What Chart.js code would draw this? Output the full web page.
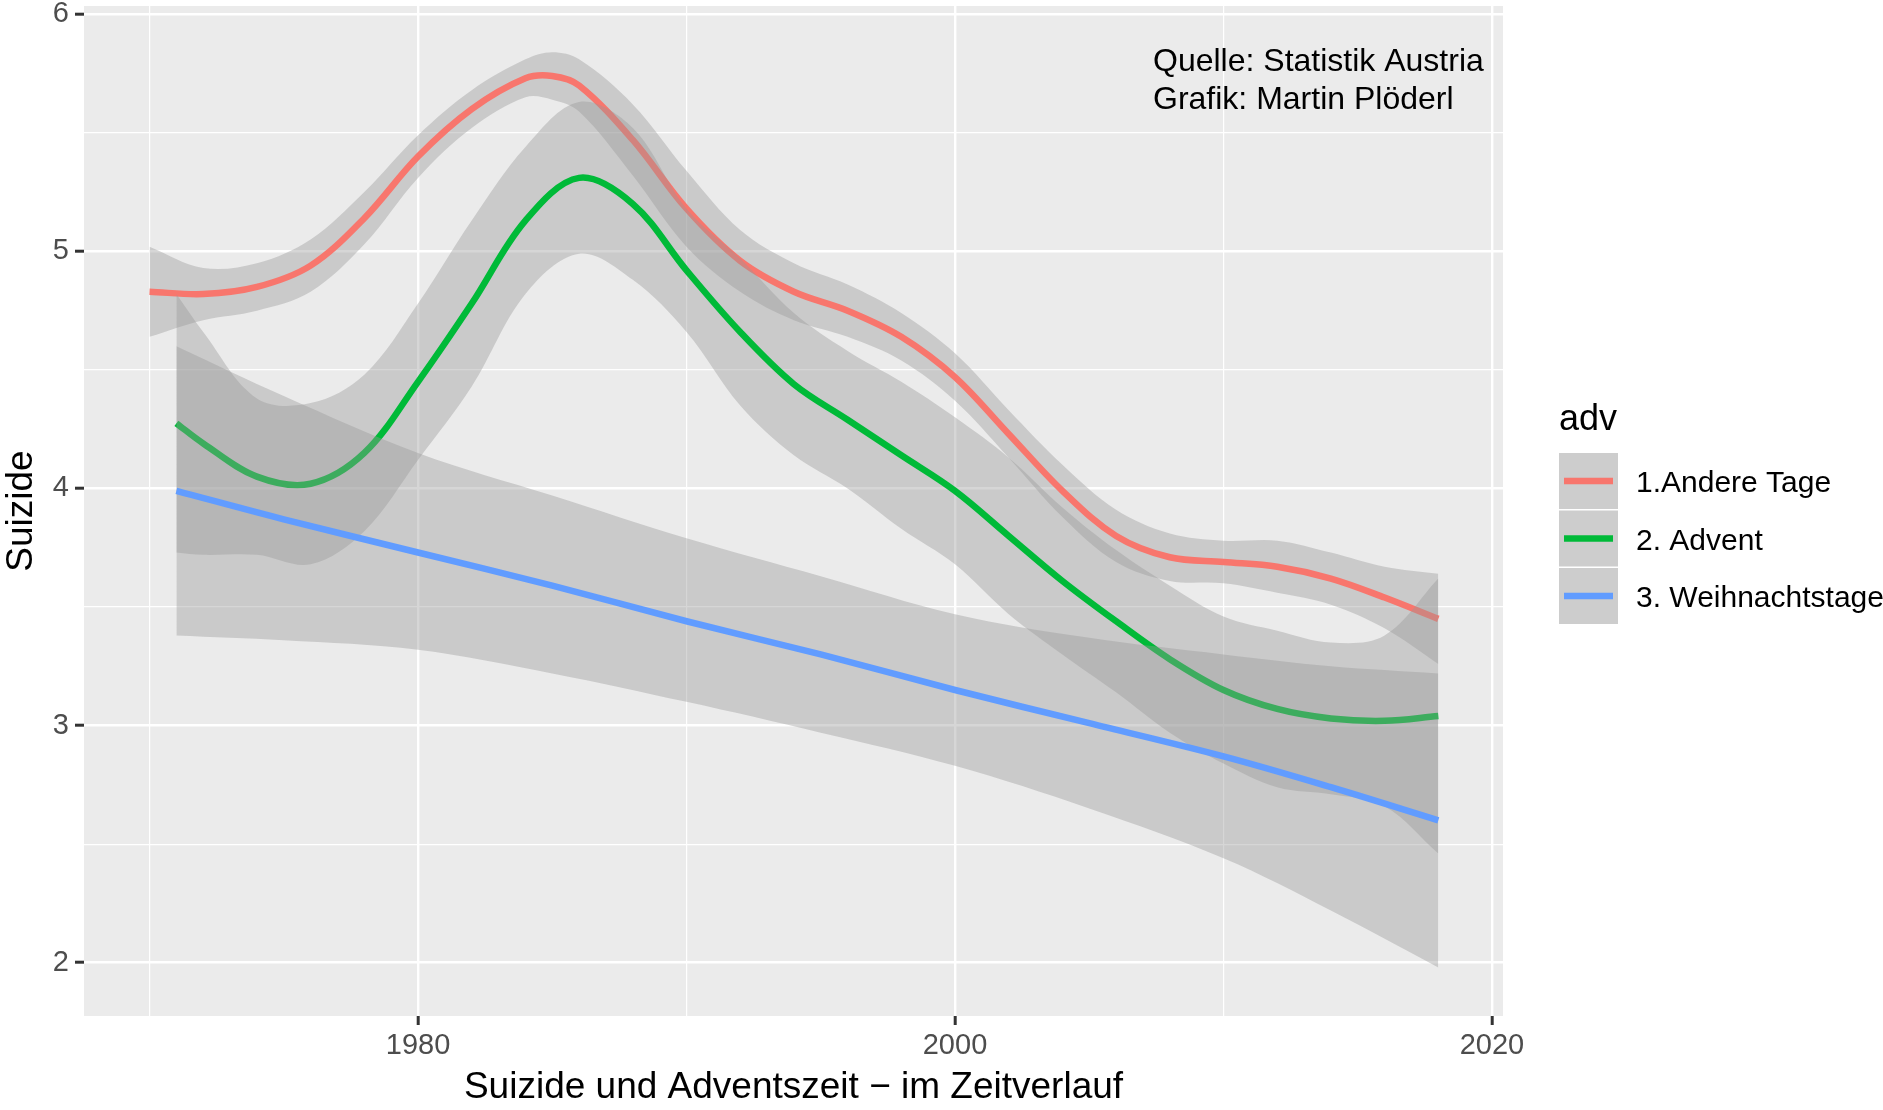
<!DOCTYPE html>
<html>
<head>
<meta charset="utf-8">
<script src="https://cdn.jsdelivr.net/npm/chart.js@4.4.1/dist/chart.umd.min.js"></script>
<style>
  html, body { margin: 0; padding: 0; background: #ffffff; }
  #wrap { width: 1883px; height: 1110px; }
</style>
</head>
<body>
<div id="wrap"><canvas id="c" width="1883" height="1110"></canvas></div>
<script>
// ---------- DATA ----------
const seriesNames = ['1.Andere Tage', '2. Advent', '3. Weihnachtstage'];
const legendTitle = 'adv';
const noteLines = ['Quelle: Statistik Austria', 'Grafik: Martin Plöderl'];

const xMajorTicks = [1980, 2000, 2020];
const xMinorTicks = [1970, 1990, 2010];
const yMajorTicks = [2, 3, 4, 5, 6];
const yMinorTicks = [2.5, 3.5, 4.5, 5.5];

// 1.Andere Tage
const andereYears = [1970, 1972, 1974, 1976, 1978, 1980, 1982, 1984, 1985, 1986, 1988, 1990, 1992, 1994, 1996, 1998, 2000, 2002, 2004, 2006, 2008, 2010, 2012, 2014, 2016, 2018];
const andereFit   = [4.83, 4.82, 4.85, 4.94, 5.14, 5.40, 5.60, 5.73, 5.74, 5.70, 5.47, 5.18, 4.96, 4.83, 4.75, 4.64, 4.47, 4.23, 3.99, 3.80, 3.71, 3.69, 3.67, 3.62, 3.54, 3.45];
const andereUpper = [5.02, 4.93, 4.95, 5.05, 5.25, 5.49, 5.68, 5.81, 5.84, 5.81, 5.62, 5.34, 5.09, 4.95, 4.86, 4.74, 4.57, 4.33, 4.10, 3.91, 3.81, 3.78, 3.78, 3.73, 3.67, 3.64];
const andereLower = [4.64, 4.71, 4.75, 4.83, 5.03, 5.31, 5.52, 5.65, 5.64, 5.59, 5.32, 5.02, 4.83, 4.71, 4.64, 4.54, 4.37, 4.13, 3.88, 3.69, 3.61, 3.60, 3.56, 3.51, 3.41, 3.26];

// 2. Advent
const adventYears = [1971, 1972, 1974, 1976, 1978, 1980, 1982, 1984, 1986, 1988, 1990, 1992, 1994, 1996, 1998, 2000, 2002, 2004, 2006, 2008, 2010, 2012, 2014, 2016, 2018];
const adventFit   = [4.275, 4.19, 4.05, 4.02, 4.15, 4.45, 4.78, 5.13, 5.31, 5.20, 4.92, 4.66, 4.44, 4.29, 4.14, 3.99, 3.80, 3.61, 3.44, 3.28, 3.15, 3.07, 3.03, 3.02, 3.04];
const adventUpper = [4.82, 4.66, 4.38, 4.36, 4.48, 4.78, 5.13, 5.44, 5.63, 5.52, 5.18, 4.97, 4.74, 4.58, 4.45, 4.30, 4.13, 3.92, 3.74, 3.59, 3.46, 3.40, 3.35, 3.38, 3.62];
const adventLower = [3.73, 3.72, 3.72, 3.68, 3.82, 4.12, 4.43, 4.82, 4.99, 4.88, 4.66, 4.35, 4.14, 4.00, 3.83, 3.68, 3.47, 3.30, 3.14, 2.97, 2.84, 2.74, 2.71, 2.66, 2.46];

// 3. Weihnachtstage
const weihYears = [1971, 1975, 1980, 1985, 1990, 1995, 2000, 2005, 2010, 2014, 2018];
const weihFit   = [3.99, 3.87, 3.73, 3.59, 3.44, 3.30, 3.15, 3.01, 2.87, 2.74, 2.60];
const weihUpper = [4.60, 4.39, 4.15, 3.97, 3.79, 3.63, 3.47, 3.37, 3.30, 3.25, 3.22];
const weihLower = [3.38, 3.36, 3.32, 3.22, 3.10, 2.97, 2.83, 2.65, 2.44, 2.22, 1.98];

const xRange = [1967.56, 2020.41];
const yRange = [1.775, 6.035];

// ---------- STYLE ----------
const FONT = '"Liberation Sans", Arial, Helvetica, sans-serif';
const seriesColors = ['#F8766D', '#00BA38', '#619CFF'];
const bandFill = 'rgba(153,153,153,0.4)';
const CURVE_TENSION = 0.35;

function pts(xs, ys) { return xs.map((x, i) => ({ x: x, y: ys[i] })); }

function bandEdge(xs, ys, order, fillTarget) {
  return {
    data: pts(xs, ys),
    borderColor: 'rgba(0,0,0,0)',
    borderWidth: 1,
    pointRadius: 0,
    tension: CURVE_TENSION,
    backgroundColor: bandFill,
    fill: fillTarget === undefined ? false : fillTarget,
    order: order
  };
}
function fitLine(label, xs, ys, color, order) {
  return {
    label: label,
    data: pts(xs, ys),
    borderColor: color,
    borderWidth: 6.5,
    pointRadius: 0,
    tension: CURVE_TENSION,
    fill: false,
    order: order,
    borderCapStyle: 'butt'
  };
}

const datasets = [
  bandEdge(andereYears, andereUpper, 6),            // 0
  bandEdge(andereYears, andereLower, 6, 0),         // 1
  fitLine(seriesNames[0], andereYears, andereFit, seriesColors[0], 5), // 2
  bandEdge(adventYears, adventUpper, 4),            // 3
  bandEdge(adventYears, adventLower, 4, 3),         // 4
  fitLine(seriesNames[1], adventYears, adventFit, seriesColors[1], 3), // 5
  bandEdge(weihYears, weihUpper, 2),                // 6
  bandEdge(weihYears, weihLower, 2, 6),             // 7
  fitLine(seriesNames[2], weihYears, weihFit, seriesColors[2], 1)      // 8
];

const ggExtras = {
  id: 'ggExtras',
  beforeDraw(chart) {
    const { ctx, chartArea: a } = chart;
    ctx.save();
    ctx.fillStyle = '#EBEBEB';
    ctx.fillRect(a.left, a.top, a.right - a.left, a.bottom - a.top);
    ctx.restore();
  },
  afterDraw(chart) {
    const ctx = chart.ctx;
    const a = chart.chartArea;
    ctx.save();
    // annotation text
    ctx.fillStyle = '#000000';
    ctx.textAlign = 'left';
    ctx.textBaseline = 'middle';
    ctx.font = '32px ' + FONT;
    noteLines.forEach((t, i) => ctx.fillText(t, a.right - 350, 62 + i * 38.5));
    // legend
    const lx = a.right + 56;
    ctx.font = '36px ' + FONT;
    ctx.fillText(legendTitle, lx, 420);
    const key = 57.5, top0 = 453;
    seriesNames.forEach((name, i) => {
      const y = top0 + i * key;
      ctx.fillStyle = '#CDCDCD';
      ctx.fillRect(lx, y, 59, key - 1.5);
      ctx.strokeStyle = seriesColors[i];
      ctx.lineWidth = 6.5;
      ctx.beginPath();
      ctx.moveTo(lx + 5, y + (key - 1.5) / 2);
      ctx.lineTo(lx + 54, y + (key - 1.5) / 2);
      ctx.stroke();
      ctx.fillStyle = '#000000';
      ctx.font = '30px ' + FONT;
      ctx.fillText(name, lx + 77, y + (key - 1.5) / 2 + 3);
    });
    ctx.restore();
  }
};

function zeroPad(s) { s.paddingTop = 0; s.paddingBottom = 0; s.paddingLeft = 0; s.paddingRight = 0; }

new Chart(document.getElementById('c'), {
  type: 'line',
  data: { datasets: datasets },
  plugins: [ggExtras],
  options: {
    responsive: false,
    animation: false,
    devicePixelRatio: 1,
    events: [],
    layout: { padding: { top: 6, right: 380, left: 0, bottom: 0 } },
    plugins: { legend: { display: false }, tooltip: { enabled: false }, title: { display: false } },
    scales: {
      x: {
        type: 'linear',
        min: xRange[0],
        max: xRange[1],
        afterBuildTicks: s => { s.ticks = xMinorTicks.concat(xMajorTicks).sort((p, q) => p - q).map(v => ({ value: v })); },
        afterFit: s => { s.height = 94; zeroPad(s); },
        border: { display: false },
        grid: {
          color: '#FFFFFF',
          lineWidth: c => (xMajorTicks.includes(c.tick && c.tick.value) ? 2.4 : 1.2),
          drawTicks: true,
          tickLength: 9,
          tickWidth: 3,
          tickColor: c => (xMajorTicks.includes(c.tick && c.tick.value) ? '#333333' : 'rgba(0,0,0,0)')
        },
        ticks: {
          autoSkip: false, maxRotation: 0, minRotation: 0, padding: 4,
          color: '#4D4D4D', font: { family: FONT, size: 29 },
          callback: v => (xMajorTicks.includes(v) ? String(v) : '')
        },
        title: {
          display: true, text: 'Suizide und Adventszeit \u2212 im Zeitverlauf',
          color: '#000000', font: { family: FONT, size: 37 }, padding: { top: 0, bottom: 0 }
        }
      },
      y: {
        type: 'linear',
        min: yRange[0],
        max: yRange[1],
        afterBuildTicks: s => { s.ticks = yMinorTicks.concat(yMajorTicks).sort((p, q) => p - q).map(v => ({ value: v })); },
        afterFit: s => { s.width = 84; zeroPad(s); },
        border: { display: false },
        grid: {
          color: '#FFFFFF',
          lineWidth: c => (yMajorTicks.includes(c.tick && c.tick.value) ? 2.4 : 1.2),
          drawTicks: true,
          tickLength: 9,
          tickWidth: 3,
          tickColor: c => (yMajorTicks.includes(c.tick && c.tick.value) ? '#333333' : 'rgba(0,0,0,0)')
        },
        ticks: {
          autoSkip: false, padding: 6,
          color: '#4D4D4D', font: { family: FONT, size: 29 },
          callback: v => (yMajorTicks.includes(v) ? String(v) : '')
        },
        title: {
          display: true, text: 'Suizide',
          color: '#000000', font: { family: FONT, size: 37 }, padding: { top: 0, bottom: 0 }
        }
      }
    }
  }
});
</script>
</body>
</html>
